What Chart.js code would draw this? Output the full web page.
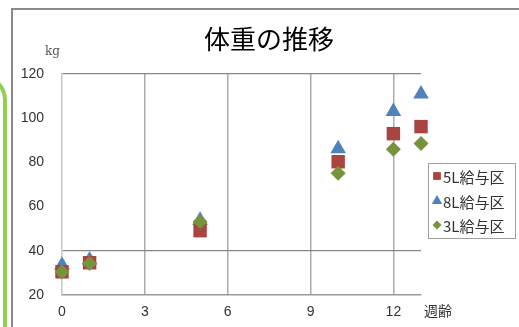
<!DOCTYPE html>
<html>
<head>
<meta charset="utf-8">
<script src="https://cdn.jsdelivr.net/npm/chart.js@4/dist/chart.umd.min.js"></script>
<style>
  html, body { margin: 0; padding: 0; background: #fff; overflow: hidden; }
  #wrap { position: relative; width: 519px; height: 327px; }
  #chart { position: absolute; left: 0; top: 0; }
  .frame { position: absolute; left: 11px; top: 8px; width: 600px; height: 400px;
           border-left: 2px solid #8a8a8a; border-top: 2px solid #8a8a8a; }
  .deco { position: absolute; left: -53px; top: 74px; width: 60px; height: 400px;
          box-sizing: border-box; border: 4px solid #92d050; border-radius: 26px; }
</style>
</head>
<body>
<div id="wrap">
  <div class="deco"></div>
  <div class="frame"></div>
  <canvas id="chart" width="519" height="327"></canvas>
</div>
<script>
// 週齢 (x) と体重 kg (y)
const weeks = [0, 1, 5, 10, 12, 13];
const seriesNames = ['5L給与区', '8L給与区', '3L給与区'];
const weight5L = [30.5, 34.6, 49.1, 80.3, 93.0, 96.2];
const weight8L = [33.5, 35.8, 53.8, 86.2, 103.0, 111.0];
const weight3L = [30.4, 34.3, 53.2, 75.1, 85.9, 88.6];
const xTicks = [0, 3, 6, 9, 12];
const yTicks = [20, 40, 60, 80, 100, 120];
const yGridValues = [40, 120];

const toPoints = ys => weeks.map((w, i) => ({ x: w, y: ys[i] }));

const datasets = [
  { label: seriesNames[0], data: toPoints(weight5L), pointStyle: 'rect', pointRadius: 9.5,
    backgroundColor: '#a94441', borderColor: '#a94441', borderWidth: 0, order: 1, clip: false },
  { label: seriesNames[1], data: toPoints(weight8L), pointStyle: 'triangle', pointRadius: 9,
    backgroundColor: '#4f81bd', borderColor: '#4f81bd', borderWidth: 0, order: 2, clip: false },
  { label: seriesNames[2], data: toPoints(weight3L), pointStyle: 'rectRot', pointRadius: 7.5,
    backgroundColor: '#77933c', borderColor: '#77933c', borderWidth: 0, order: 0, clip: false },
];

// タイトル・単位・凡例を描く
const decorations = {
  id: 'decorations',
  afterDraw(chart) {
    const { ctx } = chart;
    ctx.save();
    ctx.fillStyle = '#000';
    ctx.textAlign = 'center';
    ctx.textBaseline = 'middle';
    ctx.font = '26px "Noto Sans CJK JP"';
    ctx.fillText('体重の推移', 269, 39);

    ctx.fillStyle = '#555';
    ctx.textAlign = 'left';
    ctx.font = '12px "DejaVu Serif"';
    ctx.fillText('kg', 45, 52);

    ctx.fillStyle = '#333';
    ctx.font = '14px "Noto Sans CJK JP"';
    ctx.fillText('週齢', 424, 311);

    // 凡例
    ctx.strokeStyle = '#a0a0a0';
    ctx.lineWidth = 1;
    ctx.strokeRect(428.5, 163.5, 87, 75);
    const rows = [176, 201, 225];
    const sizes = [5.5, 6, 4.5];
    chart.data.datasets.forEach((ds, i) => {
      ctx.fillStyle = ds.backgroundColor;
      ctx.strokeStyle = ds.backgroundColor;
      Chart.helpers.drawPoint(ctx, { pointStyle: ds.pointStyle, radius: sizes[i], borderWidth: 0 }, 437, rows[i]);
      ctx.fillStyle = '#333';
      ctx.font = '15px "Noto Sans CJK JP"';
      ctx.fillText(ds.label, 443, rows[i] + 1);
    });
    ctx.restore();
  },
};

new Chart(document.getElementById('chart'), {
  type: 'scatter',
  data: { datasets },
  options: {
    responsive: false,
    animation: false,
    layout: { padding: { top: 74, right: 98, left: 0, bottom: 0 } },
    plugins: { legend: { display: false }, tooltip: { enabled: false } },
    scales: {
      x: {
        type: 'linear',
        min: 0,
        max: 13,
        afterBuildTicks: s => { s.ticks = xTicks.map(v => ({ value: v })); },
        afterFit: s => { s.height = 32; },
        ticks: { color: '#333', padding: 9, font: { family: '"Liberation Sans", Arial', size: 14 } },
        grid: { drawTicks: false, color: c => (c.tick && c.tick.value === 0 ? 'transparent' : '#ababab'), lineWidth: 1.5 },
        border: { color: '#9a9a9a', width: 1.5 },
      },
      y: {
        min: 20,
        max: 120,
        afterBuildTicks: s => { s.ticks = yTicks.map(v => ({ value: v })); },
        afterFit: s => { s.width = 62; },
        ticks: { color: '#333', padding: 18, font: { family: '"Liberation Sans", Arial', size: 14 } },
        grid: { drawTicks: false, color: c => (c.tick && yGridValues.includes(c.tick.value) ? '#868686' : 'transparent'), lineWidth: 1.2 },
        border: { color: '#c8c8c8', width: 1.5 },
      },
    },
  },
  plugins: [decorations],
});
</script>
</body>
</html>
